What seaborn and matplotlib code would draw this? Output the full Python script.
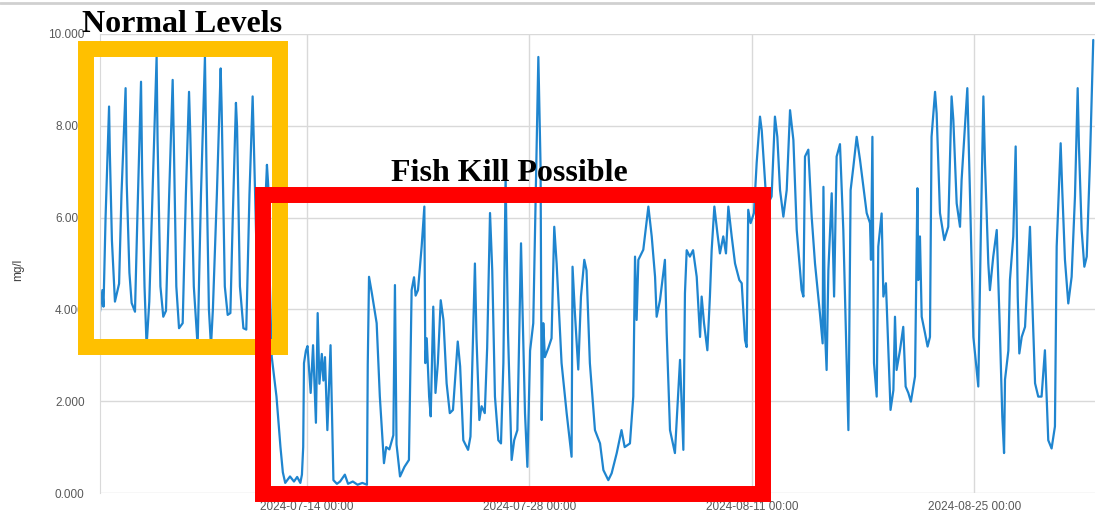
import pandas as pd
import matplotlib
matplotlib.use("Agg")
import matplotlib.pyplot as plt
import matplotlib.dates as mdates
from matplotlib.ticker import FormatStrFormatter
from matplotlib.patches import Rectangle
from matplotlib.lines import Line2D
import seaborn as sns

# dissolved oxygen readings (days after 2024-07-01 00:00)
start = pd.Timestamp("2024-07-01 00:00")

days = [
    0.00, 0.15, 0.22, 0.35, 0.57, 0.62, 0.75, 0.94, 1.20, 1.35, 1.61, 1.68, 1.85, 1.99, 2.20,
    2.35, 2.58, 2.65, 2.80, 2.93, 3.10, 3.30, 3.56, 3.62, 3.80, 3.98, 4.15, 4.35, 4.57, 4.65,
    4.80, 4.97, 5.20, 5.40, 5.60, 5.68, 5.90, 6.14, 6.35, 6.60, 6.70, 6.85, 6.98, 7.10, 7.35,
    7.59, 7.65, 7.85, 8.03, 8.20, 8.35, 8.55, 8.62, 8.80, 9.02, 9.20, 9.40, 9.60, 9.67, 9.90,
    10.10, 10.30, 10.50, 10.58, 10.65, 10.80, 11.10, 11.35, 11.50, 11.65,
    11.95, 12.20, 12.40, 12.60, 12.70, 12.78, 12.83, 12.95, 13.05, 13.25, 13.40, 13.58, 13.69,
    13.80, 13.95, 14.05, 14.15, 14.30, 14.50, 14.68, 14.90, 15.10, 15.40, 15.60, 15.90, 16.20,
    16.50, 16.79, 16.84, 16.92, 17.10, 17.40, 17.60, 17.86, 18.00, 18.20, 18.45, 18.55, 18.65,
    18.87, 19.15, 19.43, 19.60, 19.75, 19.85, 20.00, 20.23, 20.40, 20.46, 20.55, 20.70, 20.80,
    20.96, 21.10, 21.25, 21.43, 21.60, 21.80, 22.00, 22.20, 22.50, 22.65, 22.85, 23.15, 23.30,
    23.58, 23.68, 23.86, 24.00, 24.20, 24.35, 24.53, 24.67, 24.84, 25.05, 25.22, 25.37, 25.51,
    25.66, 25.89, 26.05, 26.25, 26.48, 26.56, 26.73, 26.88, 27.05, 27.25, 27.57, 27.71, 27.78,
    27.88, 27.98, 28.20, 28.40, 28.57, 28.72, 29.03, 29.35, 29.66, 29.72, 29.87, 30.08, 30.25,
    30.46, 30.60, 30.81, 31.13, 31.45, 31.66, 31.97, 32.18, 32.50, 32.80, 33.00, 33.33, 33.54,
    33.65, 33.75, 33.86, 34.17, 34.49, 34.70, 34.91, 35.01, 35.22, 35.53, 35.64, 35.85, 36.16,
    36.48, 36.69, 36.79, 36.90, 37.10, 37.30, 37.53, 37.74, 37.84, 37.99, 38.20, 38.36, 38.47,
    38.64, 38.83, 38.99, 39.20, 39.37, 39.52, 39.73, 39.94, 40.21, 40.36, 40.57, 40.67, 40.77,
    40.92, 41.13, 41.30, 41.51, 41.62, 41.93, 42.24, 42.45, 42.60, 42.77, 42.98, 43.19, 43.40,
    43.61, 43.82, 44.13, 44.24, 44.34, 44.55, 44.76, 44.97, 45.28, 45.45, 45.50, 45.60, 45.70,
    45.81, 46.02, 46.17, 46.33, 46.54, 46.75, 47.07, 47.21, 47.38, 47.59, 47.80, 48.22, 48.43,
    48.49, 48.58, 48.68, 48.85, 48.95, 49.16, 49.27, 49.43, 49.55, 49.72, 49.90, 50.00, 50.10,
    50.31, 50.52, 50.67, 50.84, 51.00, 51.26, 51.41, 51.47, 51.57, 51.68, 51.89, 52.05, 52.20,
    52.30, 52.52, 52.62, 52.83, 53.10, 53.35, 53.56, 53.67, 53.88, 54.09, 54.19, 54.55, 54.72,
    54.93, 55.24, 55.41, 55.56, 55.66, 55.87, 55.97, 56.18, 56.40, 56.60, 56.75, 56.86, 56.92,
    57.13, 57.23, 57.44, 57.59, 57.72, 57.82, 57.97, 58.18, 58.49, 58.59, 58.81, 59.01, 59.22,
    59.43, 59.64, 59.85, 60.06, 60.17, 60.42, 60.52, 60.69, 60.90, 61.11, 61.32, 61.49, 61.57,
    61.74, 61.91, 62.06, 62.26, 62.47,
]

do_mgl = [
    3.95, 4.42, 4.06, 6.00, 8.42, 7.40, 5.50, 4.17, 4.56, 6.50, 8.82, 6.75, 4.80, 4.14, 3.95,
    6.00, 8.96, 7.00, 4.50, 3.20, 4.17, 6.50, 9.50, 7.70, 4.50, 3.84, 3.97, 6.50, 9.00, 7.50,
    4.50, 3.59, 3.70, 6.50, 8.74, 7.80, 4.50, 3.20, 6.50, 9.50, 7.00, 4.00, 3.20, 4.00, 6.50,
    9.25, 8.40, 4.50, 3.88, 3.92, 6.00, 8.50, 7.98, 4.50, 3.59, 3.56, 6.50, 8.64, 7.70, 4.50,
    3.50, 5.50, 7.15, 6.70, 5.00, 2.97, 2.10, 1.00, 0.45, 0.22,
    0.36, 0.25, 0.35, 0.22, 0.40, 1.00, 2.83, 3.10, 3.20, 2.18, 3.22, 1.53, 3.92,
    2.38, 3.03, 2.45, 2.96, 1.37, 3.22, 0.28, 0.20, 0.25, 0.40, 0.20, 0.25, 0.18,
    0.22, 0.18, 2.80, 4.71, 4.35, 3.70, 2.10, 0.65, 1.00, 0.95, 1.26, 4.53, 1.06,
    0.36, 0.57, 0.72, 4.42, 4.70, 4.30, 4.42, 5.37, 6.24, 2.83, 3.37, 2.10, 1.67,
    4.06, 2.18, 2.83, 4.20, 3.77, 2.39, 1.74, 1.81, 3.30, 2.76, 1.15, 0.94, 1.23,
    5.00, 3.37, 1.59, 1.89, 1.74, 3.16, 6.10, 4.85, 2.10, 1.15, 1.08, 2.83, 6.90,
    3.50, 0.72, 1.15, 1.37, 5.44, 4.20, 1.74, 0.57, 3.10, 3.70, 9.50, 7.10, 1.59,
    3.70, 2.96, 3.16, 3.37, 5.80, 5.00, 2.83, 1.74, 0.79, 4.93, 3.92, 2.69, 4.28,
    5.08, 4.85, 2.83, 1.37, 1.08, 0.50, 0.28, 0.43, 0.87, 1.37, 1.00, 1.08, 2.10,
    5.15, 3.77, 5.08, 5.30, 6.24, 5.59, 4.71, 3.84, 4.20, 5.08, 3.50, 1.37, 0.87,
    2.90, 0.94, 4.35, 5.29, 5.15, 5.29, 4.71, 3.40, 4.28, 3.70, 3.11, 4.28, 5.29,
    6.24, 5.66, 5.22, 5.59, 5.22, 6.24, 5.59, 5.00, 4.64, 4.57, 3.33, 3.18, 6.17,
    5.88, 6.10, 7.19, 8.20, 7.90, 6.24, 6.46, 8.20, 7.76, 6.60, 6.02, 6.60, 8.34,
    7.69, 5.73, 4.42, 4.28, 7.33, 7.48, 6.02, 5.00, 3.91, 3.26, 6.67, 3.50, 2.68,
    4.85, 6.53, 4.28, 7.33, 7.60, 5.73, 1.37, 6.60, 7.10, 7.76, 7.26, 6.10, 5.88,
    5.08, 7.76, 2.83, 2.10, 5.37, 6.09, 4.28, 4.57, 3.40, 1.81, 2.24, 3.84, 2.68,
    3.10, 3.62, 2.32, 2.18, 1.99, 2.54, 6.64, 4.64, 5.59, 3.84, 3.48, 3.19, 3.40,
    7.76, 8.74, 8.27, 6.10, 5.51, 5.80, 8.64, 8.13, 6.31, 5.80, 6.82, 8.82, 6.46,
    3.40, 2.32, 5.88, 8.64, 7.19, 5.00, 4.42, 5.15, 5.73, 3.50, 1.66, 0.87, 2.47,
    3.10, 4.64, 5.59, 7.55, 4.28, 3.04, 3.40, 3.62, 5.80, 4.64, 2.39, 2.10, 2.10,
    3.11, 1.15, 0.97, 1.45, 5.37, 7.62, 6.60, 5.08, 4.13, 4.71, 6.46, 8.82, 7.55,
    5.73, 4.93, 5.15, 7.19, 9.87,
]

tick_dates = ["2024-07-14 00:00", "2024-07-28 00:00", "2024-08-11 00:00", "2024-08-25 00:00"]
y_ticks = [0, 2, 4, 6, 8, 10]

df = pd.DataFrame({"time": start + pd.to_timedelta(days, unit="D"), "do": do_mgl})

sns.set_style("white")
plt.rcParams["font.family"] = ["Liberation Sans", "DejaVu Sans"]

fig = plt.figure(figsize=(10.95, 5.14), dpi=100)
ax = fig.add_axes([100 / 1095, 21 / 514, 995 / 1095, 459 / 514])

sns.lineplot(data=df, x="time", y="do", color="#1f85cf", linewidth=1.6, ax=ax)

ax.set_ylim(0, 10)
ax.set_xlim(start, start + pd.Timedelta(days=62.58))
ax.set_yticks(y_ticks)
ax.yaxis.set_major_formatter(FormatStrFormatter("%.3f"))
ax.set_xticks(pd.to_datetime(tick_dates))
ax.xaxis.set_major_formatter(mdates.DateFormatter("%Y-%m-%d %H:%M"))
ax.grid(True, color="#d9d9d9", linewidth=1)
ax.set_axisbelow(True)
for side in ["top", "right", "bottom"]:
    ax.spines[side].set_visible(False)
ax.spines["left"].set_color("#d9d9d9")
ax.tick_params(axis="both", length=0, labelsize=8.5, colors="#595959")
ax.tick_params(axis="y", pad=11)
ax.tick_params(axis="x", pad=6)
ax.set_xlabel("")
ax.set_ylabel("")
fig.text(18 / 1095, 1 - 270 / 514, "mg/l", rotation=90, ha="center", va="center",
         fontsize=8.5, color="#404040")

# grey frame line at the very top of the screenshot
fig.add_artist(Line2D([0, 1], [1 - 2.5 / 514] * 2, color="#d0d0d0", linewidth=2))

# highlight boxes
fig.add_artist(Rectangle((86 / 1095, 167 / 514), 194 / 1095, 298 / 514,
                         transform=fig.transFigure, fill=False, edgecolor="#FFC000",
                         linewidth=11.5, joinstyle="miter"))
fig.add_artist(Rectangle((263 / 1095, 20.5 / 514), 500 / 1095, 298.5 / 514,
                         transform=fig.transFigure, fill=False, edgecolor="#FF0000",
                         linewidth=11.5, joinstyle="miter"))

fig.text(182 / 1095, 1 - 32 / 514, "Normal Levels", ha="center", va="baseline",
         fontsize=23, fontweight="bold", family="Liberation Serif", color="black")
fig.text(509.5 / 1095, 1 - 181 / 514, "Fish Kill Possible", ha="center", va="baseline",
         fontsize=23, fontweight="bold", family="Liberation Serif", color="black")

fig.savefig("out.png", dpi=100)
